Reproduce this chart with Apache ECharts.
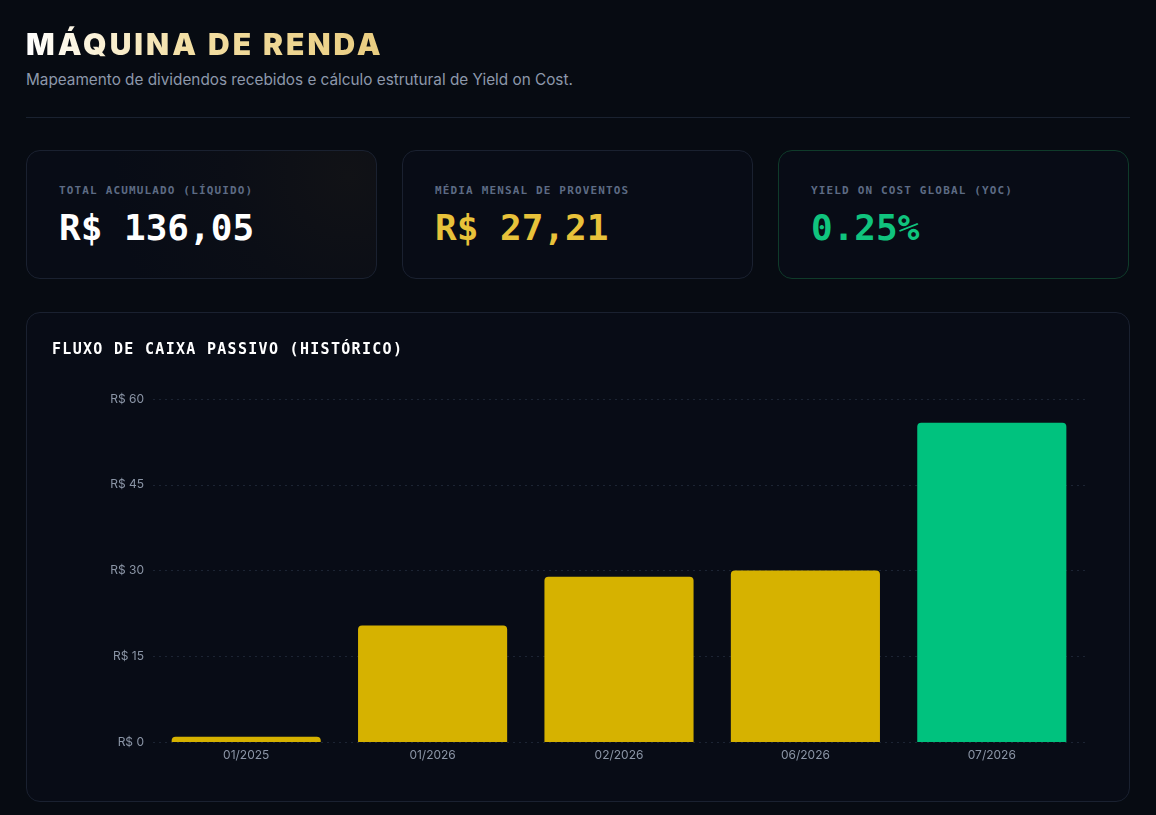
<!DOCTYPE html>
<html>
<head>
<meta charset="utf-8">
<script src="https://cdn.jsdelivr.net/npm/echarts@6/dist/echarts.min.js"></script>
<style>
  html, body { margin: 0; padding: 0; background: #070b12; width: 1156px; height: 815px; overflow: hidden; }
  body { position: relative; font-family: Inter, "Noto Sans", sans-serif; }
  .title {
    position: absolute; left: 26px; top: 26px; margin: 0; line-height: 1.2;
    font-family: Inter, sans-serif; font-weight: 900; font-size: 30px; letter-spacing: 3px;
    background: linear-gradient(90deg, #ffffff 0%, #f3dfa4 45%, #e9cd80 100%);
    -webkit-background-clip: text; background-clip: text; color: transparent;
  }
  .sub { position: absolute; left: 26px; top: 70px; font-size: 15.3px; color: #8d98ab; }
  .rule { position: absolute; left: 26px; top: 117px; width: 1104px; height: 1px; background: #1a2230; }
  .card {
    position: absolute; top: 150px; width: 349px; height: 127px;
    border: 1px solid #1a2130; border-radius: 14px; background: #080c16;
  }
  .card.glow { background: radial-gradient(circle at 92% 20%, #111216 0%, #0b0e16 35%, #080c16 70%); }
  .card.green { border-color: #0f3b2a; }
  .lbl {
    position: absolute; left: 32px; top: 33px;
    font-family: "DejaVu Sans Mono", monospace; font-weight: bold; font-size: 11px; letter-spacing: 1.15px; color: #5d6b84;
  }
  .val {
    position: absolute; left: 32px; top: 56px;
    font-family: "DejaVu Sans Mono", monospace; font-weight: bold; font-size: 36px; letter-spacing: 0px;
  }
  .panel {
    position: absolute; left: 26px; top: 312px; width: 1102px; height: 488px;
    border: 1px solid #1a2130; border-radius: 14px; background: #080c16;
  }
  .ptitle {
    position: absolute; left: 25px; top: 27px;
    font-family: "DejaVu Sans Mono", monospace; font-weight: bold; font-size: 15px; color: #ffffff; letter-spacing: 1.3px;
  }
  #chart { position: absolute; left: 0; top: 0; width: 1102px; height: 488px; }
</style>
</head>
<body>
<h1 class="title">MÁQUINA DE RENDA</h1>
<div class="sub">Mapeamento de dividendos recebidos e cálculo estrutural de Yield on Cost.</div>
<div class="rule"></div>

<div class="card glow" style="left:26px">
  <div class="lbl">TOTAL ACUMULADO (LÍQUIDO)</div>
  <div class="val" style="color:#ffffff">R$ 136,05</div>
</div>
<div class="card" style="left:402px">
  <div class="lbl">MÉDIA MENSAL DE PROVENTOS</div>
  <div class="val" style="color:#e8c23a">R$ 27,21</div>
</div>
<div class="card green" style="left:778px">
  <div class="lbl">YIELD ON COST GLOBAL (YOC)</div>
  <div class="val" style="color:#10c47e">0.25%</div>
</div>

<div class="panel">
  <div id="chart"></div>
  <div class="ptitle">FLUXO DE CAIXA PASSIVO (HISTÓRICO)</div>
</div>

<script>
// meses com proventos
const meses = ['01/2025', '01/2026', '02/2026', '06/2026', '07/2026'];
// valores recebidos (R$)
const proventos = [0.9, 20.4, 28.9, 30.0, 55.85];
// ticks do eixo y
const yTicks = [0, 15, 30, 45, 60];

const corPadrao = '#d6b200';
const corUltimo = '#00c27e';

const myChart = echarts.init(document.getElementById('chart'));

myChart.setOption({
    animation: false,
    grid: { left: 126, right: 44, top: 86, bottom: 59 },
    xAxis: {
        type: 'category',
        data: meses,
        axisLine: { show: false },
        axisTick: { show: false },
        axisLabel: { color: '#8b95a6', fontSize: 12, fontFamily: 'Inter', margin: 7 }
    },
    yAxis: {
        type: 'value',
        min: yTicks[0],
        max: yTicks[yTicks.length - 1],
        interval: 15,
        axisLabel: { color: '#8b95a6', fontSize: 12, fontFamily: 'Inter', margin: 9, formatter: v => 'R$ ' + v },
        splitLine: { lineStyle: { color: '#1c2433', type: [2, 4], width: 1 } }
    },
    series: [{
        type: 'bar',
        barWidth: '80%',
        data: proventos.map((v, i) => ({
            value: v,
            itemStyle: { color: i === proventos.length - 1 ? corUltimo : corPadrao }
        })),
        itemStyle: { borderRadius: [4, 4, 0, 0] }
    }]
});
</script>
</body>
</html>
